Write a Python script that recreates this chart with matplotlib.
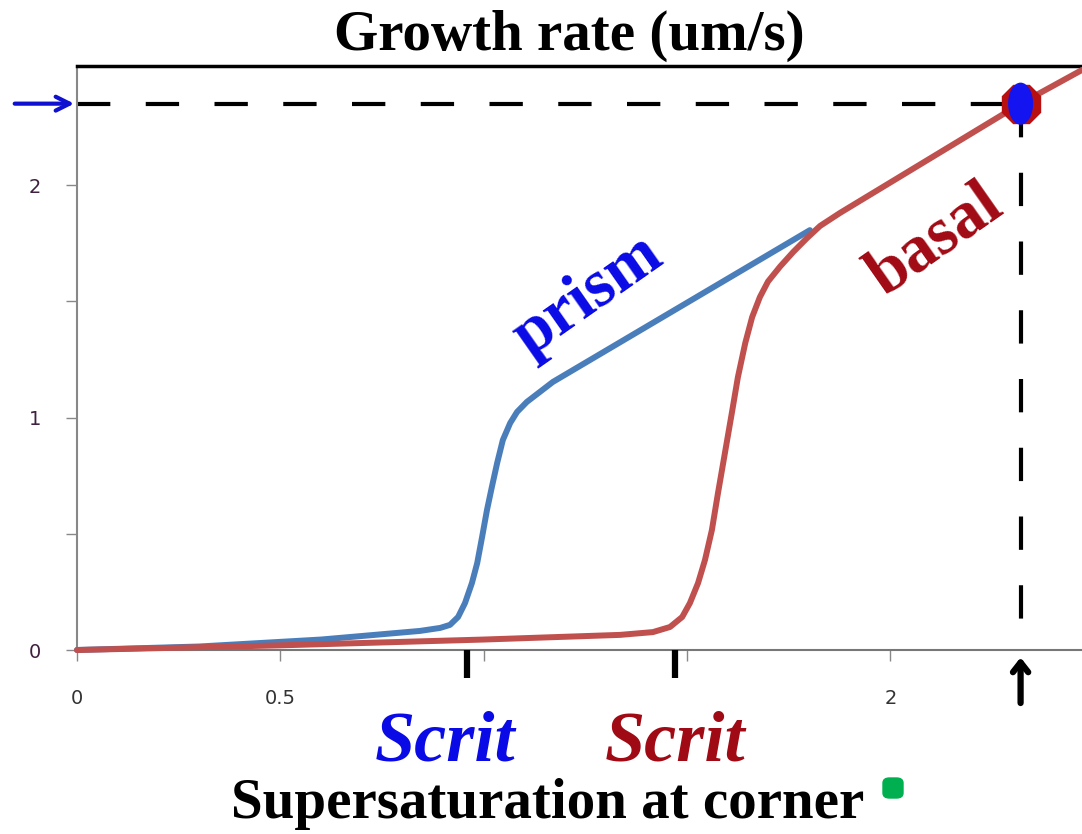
import matplotlib
matplotlib.use("Agg")
import matplotlib.pyplot as plt
from matplotlib.patches import Ellipse, FancyBboxPatch

# ---- data -----------------------------------------------------------------
prism_x = [0, 0.3, 0.6, 0.843, 0.893, 0.917, 0.937, 0.954, 0.971, 0.984,
           0.996, 1.008, 1.020, 1.033, 1.047, 1.065, 1.082, 1.106, 1.138,
           1.170, 1.802]
prism_y = [0, 0.015, 0.045, 0.082, 0.095, 0.108, 0.142, 0.202, 0.288, 0.374,
           0.486, 0.602, 0.701, 0.804, 0.903, 0.976, 1.024, 1.067, 1.110,
           1.153, 1.806]

basal_x = [0, 0.5, 1.0, 1.335, 1.416, 1.458, 1.488, 1.507, 1.527, 1.544,
           1.561, 1.576, 1.593, 1.610, 1.625, 1.643, 1.660, 1.679, 1.699,
           1.729, 1.761, 1.795, 1.827, 1.876, 2.32, 2.471]
basal_y = [0, 0.02, 0.045, 0.065, 0.077, 0.099, 0.142, 0.202, 0.288, 0.387,
           0.516, 0.675, 0.847, 1.019, 1.174, 1.320, 1.432, 1.518, 1.585,
           1.650, 1.712, 1.772, 1.824, 1.880, 2.35, 2.495]

scrit_prism = 0.96
scrit_basal = 1.47
op_x, op_y = 2.32, 2.35           # operating point (corner supersaturation, rate)

x_ticks = [0, 0.5, 1, 1.5, 2]
x_labels = ["0", "0.5", "", "", "2"]
y_ticks = [0, 0.5, 1, 1.5, 2]
y_labels = ["0", "", "1", "", "2"]

BLUE_LINE = "#4A7EBB"
RED_LINE = "#C0504D"
BLUE_TXT = "#0A0AE6"
RED_TXT = "#A00A14"
SERIF = ["Liberation Serif", "DejaVu Serif"]

fig = plt.figure(figsize=(10.82, 8.34), dpi=100)
ax = fig.add_axes([77 / 1082, 1 - 650 / 834, 1 - 77 / 1082, (650 - 66) / 834])
ax.set_xlim(0, 2.471)
ax.set_ylim(0, 2.512)

# dashed guide lines to the operating point
dash = dict(color="black", lw=3, dashes=(8, 8.5), zorder=2)
ax.plot([0, op_x], [op_y, op_y], **dash)
ax.plot([op_x, op_x], [op_y, 0], **dash)

line_kw = dict(lw=4.3, zorder=3, clip_on=False, solid_capstyle="round",
               solid_joinstyle="round")
ax.plot(prism_x, prism_y, color=BLUE_LINE, **line_kw)
ax.plot(basal_x, basal_y, color=RED_LINE, **line_kw)

# operating point marker: red blob with blue oval on top
ax.plot([op_x], [op_y], marker="8", ms=29, color="#B81010", mec="#B81010",
        zorder=4, clip_on=False)
ax.add_patch(Ellipse((op_x, op_y), 0.058, 0.175, color="#1414F0", zorder=5))

# thick markers for the critical supersaturations
for xs in (scrit_prism, scrit_basal):
    ax.plot([xs, xs], [0, -0.12], color="black", lw=4.5, clip_on=False,
            solid_capstyle="butt", zorder=4)

# arrows outside the axes
ax.annotate("", xy=(0, op_y), xytext=(-0.16, op_y), annotation_clip=False,
            arrowprops=dict(arrowstyle="->,head_length=1.0,head_width=0.5",
                            color="#1010D0", lw=3))
ax.annotate("", xy=(op_x, -0.02), xytext=(op_x, -0.24), annotation_clip=False,
            arrowprops=dict(arrowstyle="->,head_length=0.7,head_width=0.55",
                            color="black", lw=4.5))

# curve labels
ax.text(1.255, 1.52, "prism", rotation=35, color=BLUE_TXT, fontsize=48,
        fontweight="bold", family=SERIF, ha="center", va="center")
ax.text(2.11, 1.76, "basal", rotation=35, color=RED_TXT, fontsize=48,
        fontweight="bold", family=SERIF, ha="center", va="center")

# axes styling
ax.set_xticks(x_ticks)
ax.set_xticklabels(x_labels)
ax.set_yticks(y_ticks)
ax.set_yticklabels(y_labels)
ax.tick_params(axis="x", length=8, width=1, color="#888888", pad=20,
               labelsize=14, labelcolor="#333333")
ax.tick_params(axis="y", length=8, width=1, color="#888888", pad=18,
               labelsize=14, labelcolor="#402040")
ax.spines["right"].set_visible(False)
ax.spines["left"].set_color("#888888")
ax.spines["left"].set_linewidth(1.5)
ax.spines["bottom"].set_color("#777777")
ax.spines["bottom"].set_linewidth(1.5)
ax.spines["top"].set_color("black")
ax.spines["top"].set_linewidth(2.5)

# titles and Scrit labels
fig.text(569 / 1082, 1 - 36 / 834, "Growth rate (um/s)", ha="center",
         va="center", fontsize=41, fontweight="bold", family=SERIF)
fig.text(548 / 1082, 1 - 804 / 834, "Supersaturation at corner", ha="center",
         va="center", fontsize=41, fontweight="bold", family=SERIF)
fig.text(445 / 1082, 1 - 743 / 834, "Scrit", ha="center", va="center",
         fontsize=52, fontweight="bold", style="italic", color=BLUE_TXT,
         family=SERIF)
fig.text(675 / 1082, 1 - 743 / 834, "Scrit", ha="center", va="center",
         fontsize=52, fontweight="bold", style="italic", color=RED_TXT,
         family=SERIF)

fig.add_artist(FancyBboxPatch((883 / 1082, 1 - 798 / 834), 20 / 1082, 20 / 834,
                              boxstyle="round,pad=0,rounding_size=0.006",
                              transform=fig.transFigure, color="#00B050"))

fig.savefig("out.png", dpi=100)
plt.close(fig)
